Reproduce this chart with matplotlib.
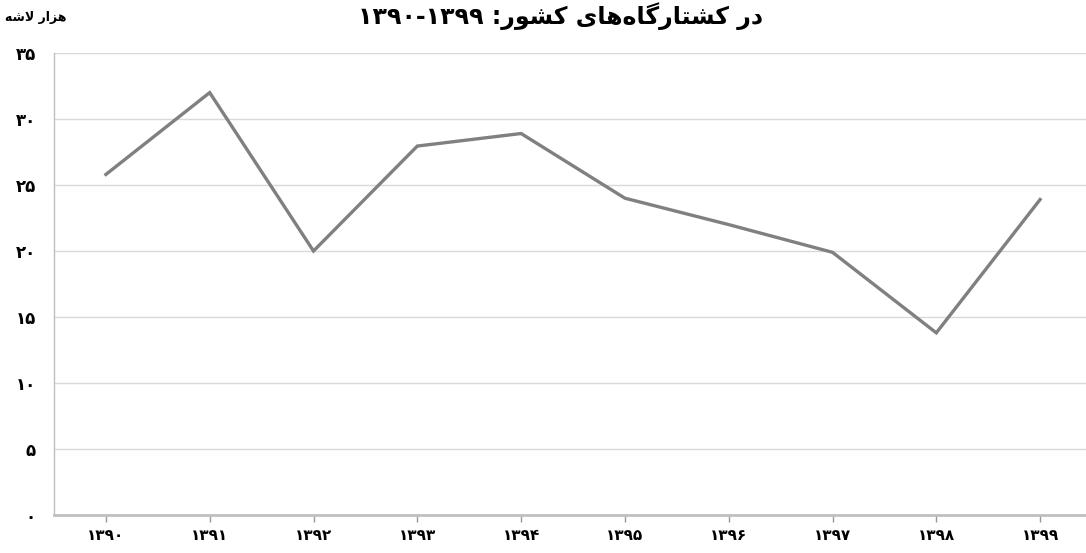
import matplotlib
matplotlib.use("Agg")
import matplotlib.pyplot as plt

# data
years = ["۱۳۹۰", "۱۳۹۱", "۱۳۹۲", "۱۳۹۳", "۱۳۹۴", "۱۳۹۵", "۱۳۹۶", "۱۳۹۷", "۱۳۹۸", "۱۳۹۹"]
values = [25.8, 32.0, 20.0, 27.95, 28.9, 24.0, 22.0, 19.9, 13.8, 23.9]
y_ticks = [0, 5, 10, 15, 20, 25, 30, 35]
y_tick_labels = ["۰", "۵", "۱۰", "۱۵", "۲۰", "۲۵", "۳۰", "۳۵"]
# Persian text pre-shaped (presentation forms, visual order)
unit_label = "\uFEEA\uFEB7\uFEFB \uFEAD\uFE8D\uFEB0\uFEEB"
title_text = ("۱۳۹۰-۱۳۹۹ :"
              "\uFEAD\uFEEE\uFEB8\uFB90 "
              "\uFBFC\uFE8E\uFEEB\uFEE9\uFE8E\uFB94\uFEAD\uFE8E\uFE98\uFEB8\uFB90 "
              "\uFEAD\uFEA9")

plt.rcParams['font.family'] = ['DejaVu Sans']

W, H = 1086, 553
fig = plt.figure(figsize=(W / 100, H / 100), dpi=100)
ax = fig.add_axes([54 / W, 38 / H, (1092 - 54) / W, (515 - 53) / H])

x = list(range(len(years)))
ax.plot(x, values, color="#808080", linewidth=2.4, solid_joinstyle="miter", zorder=3)

ax.set_xlim(-0.5, len(years) - 0.5)
ax.set_ylim(0, 35)
ax.set_xticks(x)
ax.set_xticklabels(years, fontsize=11, fontweight="bold")
ax.set_yticks(y_ticks)
ax.set_yticklabels(y_tick_labels, fontsize=12, fontweight="bold")

ax.grid(axis="y", color="#d9d9d9", linewidth=1.0, zorder=0)
ax.set_axisbelow(True)
for s in ["top", "right"]:
    ax.spines[s].set_visible(False)
ax.spines["left"].set_color("#bfbfbf")
ax.spines["left"].set_linewidth(1.0)
ax.spines["bottom"].set_color("#bfbfbf")
ax.spines["bottom"].set_linewidth(2.0)
ax.tick_params(axis="y", length=0, pad=13)
ax.tick_params(axis="x", length=5, width=1, color="#999999", pad=4, direction="out")

fig.text(5 / W, 1 - 18 / H, unit_label, fontsize=9, fontweight="bold",
         ha="left", va="center")
fig.text(560 / W, 1 - 2 / H, title_text, fontsize=17, fontweight="bold",
         ha="center", va="top")

fig.savefig("out.png", dpi=100)
